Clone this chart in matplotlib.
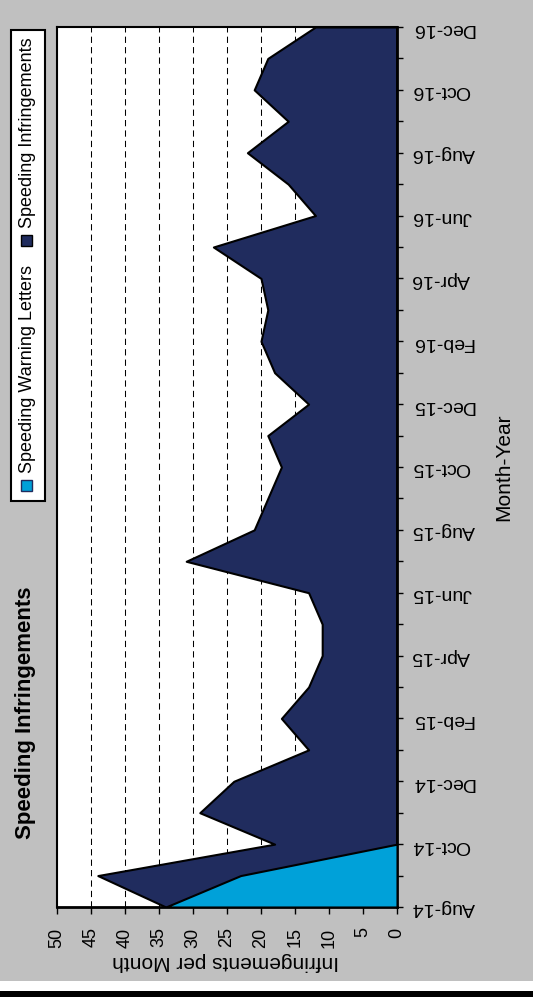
import matplotlib
matplotlib.use("Agg")
import matplotlib.pyplot as plt
from matplotlib.patches import Rectangle

plt.rcParams['font.family'] = ['Liberation Sans', 'DejaVu Sans']

# ---- data ----
months = ['Aug-14', 'Sep-14', 'Oct-14', 'Nov-14', 'Dec-14', 'Jan-15', 'Feb-15',
          'Mar-15', 'Apr-15', 'May-15', 'Jun-15', 'Jul-15', 'Aug-15', 'Sep-15',
          'Oct-15', 'Nov-15', 'Dec-15', 'Jan-16', 'Feb-16', 'Mar-16', 'Apr-16',
          'May-16', 'Jun-16', 'Jul-16', 'Aug-16', 'Sep-16', 'Oct-16', 'Nov-16',
          'Dec-16']
speeding_infringements = [34, 44, 18, 29, 24, 13, 17, 13, 11, 11, 13, 31, 21, 19,
                          17, 19, 13, 18, 20, 19, 20, 27, 12, 16, 22, 16, 21, 19, 12]
warning_letters = [34, 23, 0, 0, 0, 0, 0, 0, 0, 0, 0, 0, 0, 0,
                   0, 0, 0, 0, 0, 0, 0, 0, 0, 0, 0, 0, 0, 0, 0]
series_names = ['Speeding Warning Letters', 'Speeding Infringements']
series_colors = ['#00a1d9', '#202c5e']
value_ticks = list(range(0, 55, 5))

W, H = 533, 1003
def fx(x):
    return x / W
def fy(y):
    return 1 - y / H

fig = plt.figure(figsize=(W / 100, H / 100), dpi=100)
fig.patch.set_facecolor('white')
fig.patches.append(Rectangle((0, fy(982)), 1, 1 - fy(982), transform=fig.transFigure,
                             facecolor='#c0c0c0', edgecolor='none', zorder=-10))
fig.patches.append(Rectangle((0, fy(998)), 1, 6 / H, transform=fig.transFigure,
                             facecolor='black', edgecolor='none', zorder=-10))

ax = fig.add_axes([fx(57), fy(908), fx(397) - fx(57), fy(28) - fy(908)])
ax.set_facecolor('white')

idx = list(range(len(months)))
ax.fill_betweenx(idx, 0, speeding_infringements, facecolor=series_colors[1],
                 edgecolor='black', linewidth=1.5, zorder=3)
ax.fill_betweenx(idx, 0, warning_letters, facecolor=series_colors[0],
                 edgecolor='black', linewidth=1.5, zorder=4)

ax.set_xlim(50, 0)
ax.set_ylim(0, len(months) - 1)

for v in value_ticks[1:-1]:
    ax.axvline(v, color='black', linewidth=0.75, linestyle=(0, (6, 4)), zorder=1)

ax.set_xticks(value_ticks)
ax.set_xticklabels([str(v) for v in value_ticks])
ax.tick_params(axis='x', direction='out', length=5, width=1, pad=9,
               labelsize=13, labelrotation=90)

ax.yaxis.tick_right()
ax.set_yticks(idx[::2])
ax.set_yticklabels(months[::2])
ax.set_yticks(idx, minor=True)
ax.tick_params(axis='y', which='both', direction='out', length=4.5, width=1,
               pad=6, labelsize=14, labelrotation=180)
for lab in ax.get_yticklabels():
    lab.set_va('center')

for s in ax.spines.values():
    s.set_linewidth(1.5)
    s.set_color('black')
ax.spines['right'].set_linewidth(2)
ax.spines['bottom'].set_linewidth(2)

fig.text(fx(226), fy(962), 'Infringements per Month', rotation=180,
         ha='center', va='center', fontsize=15)
fig.text(fx(504), fy(467), 'Month-Year', rotation=90,
         ha='center', va='center', fontsize=15)
fig.text(fx(26), fy(713), 'Speeding Infringements', rotation=90,
         ha='center', va='center', fontsize=16, fontweight='bold')

# legend (drawn rotated)
fig.patches.append(Rectangle((fx(11), fy(502)), fx(45) - fx(11), fy(31) - fy(502),
                             transform=fig.transFigure, facecolor='white',
                             edgecolor='black', linewidth=1.5, zorder=5))
sq = 11
fig.patches.append(Rectangle((fx(21), fy(492)), sq / W, sq / H, transform=fig.transFigure,
                             facecolor=series_colors[0], edgecolor='#202c5e',
                             linewidth=1, zorder=6))
fig.text(fx(28), fy(473), series_names[0], rotation=90, ha='center', va='bottom',
         fontsize=13, zorder=6)
fig.patches.append(Rectangle((fx(21), fy(247)), sq / W, sq / H, transform=fig.transFigure,
                             facecolor=series_colors[1], edgecolor='black',
                             linewidth=1, zorder=6))
fig.text(fx(28), fy(228), series_names[1], rotation=90, ha='center', va='bottom',
         fontsize=13, zorder=6)

fig.savefig('out.png', dpi=100)
